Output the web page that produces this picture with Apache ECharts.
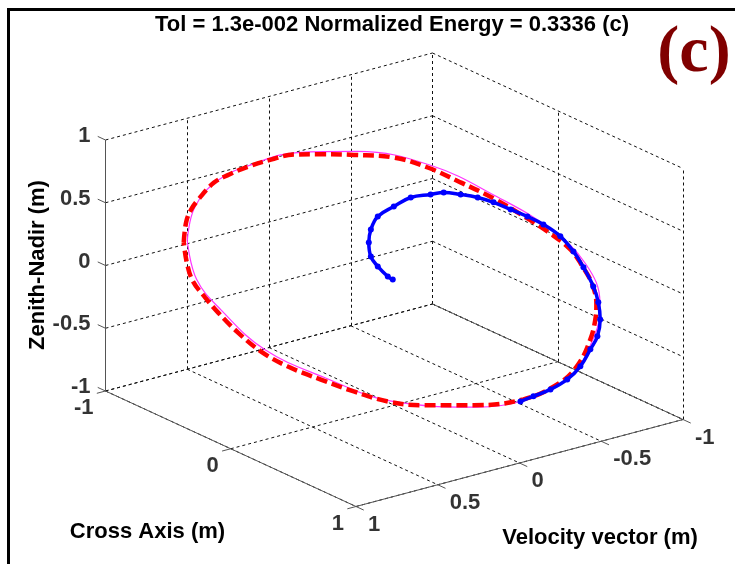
<!DOCTYPE html>
<html>
<head>
<meta charset="utf-8">
<script src="https://cdn.jsdelivr.net/npm/echarts@6/dist/echarts.min.js"></script>
<style>
html, body { margin: 0; padding: 0; background: #fff; }
#chart { width: 752px; height: 564px; }
</style>
</head>
<body>
<div id="chart"></div>
<script>
// axis ticks
var crossTicks = [-1, 0, 1];
var velocityTicks = [1, 0.5, 0, -0.5, -1];
var zenithTicks = [-1, -0.5, 0, 0.5, 1];
var crossTickText = ["-1", "0", "1"];
var velocityTickText = ["1", "0.5", "0", "-0.5", "-1"];
var zenithTickText = ["-1", "-0.5", "0", "0.5", "1"];

// desired orbit (magenta)
var desCross = [-0.603, -0.582, -0.515, -0.416, -0.282, -0.108, 0.107, 0.299, 0.456, 0.558, 0.599, 0.581, 0.494, 0.241, -0.009, -0.204, -0.378, -0.503, -0.576];
var desVelocity = [0.804, 0.775, 0.686, 0.554, 0.376, 0.143, -0.144, -0.400, -0.609, -0.745, -0.799, -0.776, -0.659, -0.322, 0.011, 0.271, 0.503, 0.670, 0.767];
var desZenith = [0.313, 0.576, 0.791, 0.918, 1.014, 1.022, 0.910, 0.660, 0.400, 0.122, -0.181, -0.460, -0.810, -1.015, -0.968, -0.779, -0.556, -0.245, 0.002];

// reference orbit (red dashed)
var refCross = [-0.613, -0.606, -0.592, -0.571, -0.525, -0.481, -0.426, -0.359, -0.292, -0.214, -0.118, -0.001, 0.097, 0.193, 0.289, 0.388, 0.446, 0.513, 0.548, 0.577, 0.589, 0.586, 0.571, 0.536, 0.484, 0.376, 0.231, 0.077, -0.019, -0.118, -0.214, -0.310, -0.388, -0.455, -0.513, -0.551, -0.586, -0.603];
var refVelocity = [0.818, 0.808, 0.789, 0.762, 0.700, 0.641, 0.568, 0.479, 0.390, 0.285, 0.157, 0.002, -0.130, -0.258, -0.386, -0.517, -0.595, -0.684, -0.731, -0.769, -0.785, -0.781, -0.762, -0.715, -0.645, -0.502, -0.308, -0.103, 0.025, 0.157, 0.285, 0.413, 0.517, 0.607, 0.684, 0.734, 0.781, 0.804];
var refZenith = [0.297, 0.464, 0.560, 0.639, 0.775, 0.839, 0.902, 0.958, 0.998, 1.0, 0.995, 0.974, 0.894, 0.775, 0.647, 0.488, 0.384, 0.241, 0.106, -0.038, -0.197, -0.317, -0.476, -0.675, -0.819, -0.954, -1.0, -1.0, -0.970, -0.890, -0.795, -0.691, -0.572, -0.420, -0.261, -0.141, -0.014, 0.122];

// actual trajectory (blue)
var trajCross = [-0.004, -0.019, -0.048, -0.068, -0.074, -0.068, -0.048, -0.001, 0.048, 0.106, 0.144, 0.193, 0.243, 0.289, 0.339, 0.388, 0.435, 0.484, 0.522, 0.551, 0.580, 0.594, 0.600, 0.592, 0.571, 0.542, 0.504, 0.455, 0.405, 0.368];
var trajVelocity = [0.006, 0.025, 0.064, 0.091, 0.099, 0.091, 0.064, 0.002, -0.064, -0.141, -0.192, -0.258, -0.324, -0.386, -0.452, -0.517, -0.579, -0.645, -0.696, -0.735, -0.773, -0.793, -0.800, -0.789, -0.762, -0.723, -0.672, -0.607, -0.541, -0.490];
var trajZenith = [0.002, 0.026, 0.106, 0.185, 0.297, 0.400, 0.504, 0.584, 0.655, 0.679, 0.695, 0.679, 0.655, 0.616, 0.560, 0.504, 0.440, 0.345, 0.225, 0.098, -0.054, -0.181, -0.317, -0.452, -0.556, -0.691, -0.795, -0.875, -0.930, -0.970];

// 3d view of the axes box
var box = { ox: 105.5, oy: 391, cx: 250.5, cy: 115.5, vx: 327, vy: -87, zh: 251 };
function proj(c, v, z) {
    var a = (c + 1) / 2, b = (1 - v) / 2, h = (z + 1) / 2;
    return [box.ox + a * box.cx + b * box.vx, box.oy + a * box.cy + b * box.vy - h * box.zh];
}

function curve(cs, vs, zs, closed) {
    var pts = [];
    for (var i = 0; i < cs.length; i++) pts.push(proj(cs[i], vs[i], zs[i]));
    if (closed) pts.push(pts[0]);
    return pts;
}

function seg(list, p, q) {
    list.push({ coords: [proj(p[0], p[1], p[2]), proj(q[0], q[1], q[2])] });
}

var gridSegs = [];
zenithTicks.forEach(function(z) {
    seg(gridSegs, [-1, 1, z], [-1, -1, z]);
    seg(gridSegs, [-1, -1, z], [1, -1, z]);
});
velocityTicks.forEach(function(v) {
    seg(gridSegs, [-1, v, -1], [-1, v, 1]);
    seg(gridSegs, [-1, v, -1], [1, v, -1]);
});
crossTicks.forEach(function(c) {
    seg(gridSegs, [c, -1, -1], [c, -1, 1]);
    seg(gridSegs, [c, 1, -1], [c, -1, -1]);
});

var axisSegs = [];
seg(axisSegs, [-1, 1, -1], [-1, 1, 1]);
seg(axisSegs, [-1, 1, -1], [1, 1, -1]);
seg(axisSegs, [1, 1, -1], [1, -1, -1]);
seg(axisSegs, [-1, -1, -1], [1, -1, -1]);
zenithTicks.forEach(function(z) { seg(axisSegs, [-1, 1, z], [-1.062, 1, z]); });
crossTicks.forEach(function(c) { seg(axisSegs, [c, 1, -1], [c, 1.053, -1]); });
velocityTicks.forEach(function(v) { seg(axisSegs, [1, v, -1], [1.062, v, -1]); });

var labelFont = { fontFamily: "Liberation Sans", fontWeight: "bold", fontSize: 22, color: "#000" };
function tickLabels(points, texts, align, offset) {
    return points.map(function(p, i) {
        return {
            value: p,
            label: Object.assign({
                show: true, position: "inside", align: align, verticalAlign: "middle",
                offset: offset, formatter: texts[i]
            }, labelFont)
        };
    });
}

var labelData = []
    .concat(tickLabels(zenithTicks.map(function(z) { return proj(-1, 1, z); }), zenithTickText, "right", [-15, -4]))
    .concat(tickLabels(crossTicks.map(function(c) { return proj(c, 1, -1); }), crossTickText, "right", [-12, 17]))
    .concat(tickLabels(velocityTicks.map(function(v) { return proj(1, v, -1); }), velocityTickText, "left", [12, 18]));

var chart = echarts.init(document.getElementById("chart"));

var option = {
    backgroundColor: "#fff",
    animation: false,
    grid: { left: 0, right: 0, top: 0, bottom: 0 },
    xAxis: { type: "value", min: 0, max: 752, show: false },
    yAxis: { type: "value", min: 0, max: 564, inverse: true, show: false },
    graphic: [
        { type: "line", shape: { x1: 8.5, y1: 8, x2: 8.5, y2: 564 }, style: { stroke: "#000", lineWidth: 3 } },
        { type: "line", shape: { x1: 7, y1: 9.5, x2: 735, y2: 9.5 }, style: { stroke: "#000", lineWidth: 3 } },
        {
            type: "text", x: 392, y: 25,
            style: { text: "Tol = 1.3e-002 Normalized Energy = 0.3336 (c)", align: "center", verticalAlign: "middle",
                font: 'bold 22px "Liberation Sans"', fill: "#000" }
        },
        {
            type: "text", x: 694, y: 54,
            style: { text: "(c)", align: "center", verticalAlign: "middle",
                font: 'bold 66px "Liberation Serif"', fill: "#800000" }
        },
        {
            type: "text", x: 147.5, y: 532,
            style: { text: "Cross Axis (m)", align: "center", verticalAlign: "middle",
                font: 'bold 22px "Liberation Sans"', fill: "#000" }
        },
        {
            type: "text", x: 600, y: 538,
            style: { text: "Velocity vector (m)", align: "center", verticalAlign: "middle",
                font: 'bold 22px "Liberation Sans"', fill: "#000" }
        },
        {
            type: "text", x: 37.5, y: 265, rotation: Math.PI / 2,
            style: { text: "Zenith-Nadir (m)", align: "center", verticalAlign: "middle",
                font: 'bold 22px "Liberation Sans"', fill: "#000" }
        }
    ],
    series: [{
        type: "lines",
        coordinateSystem: "cartesian2d",
        silent: true,
        data: gridSegs,
        lineStyle: { color: "#111", width: 1, type: [3, 3], opacity: 1 }
    }, {
        type: "lines",
        coordinateSystem: "cartesian2d",
        silent: true,
        data: axisSegs,
        lineStyle: { color: "#555", width: 1, opacity: 1 }
    }, {
        name: "desired",
        type: "line",
        data: curve(desCross, desVelocity, desZenith, true),
        smooth: 0.4,
        showSymbol: false,
        lineStyle: { color: "#ff33ff", width: 1.2 }
    }, {
        name: "reference",
        type: "line",
        data: curve(refCross, refVelocity, refZenith, true),
        smooth: 0.4,
        showSymbol: false,
        lineStyle: { color: "#ff0000", width: 4.5, type: [11, 5] }
    }, {
        name: "trajectory",
        type: "line",
        data: curve(trajCross, trajVelocity, trajZenith, false),
        smooth: 0.4,
        symbol: "circle",
        symbolSize: 6,
        showAllSymbol: true,
        itemStyle: { color: "#0000ff" },
        lineStyle: { color: "#0000ff", width: 3.5 }
    }, {
        type: "scatter",
        silent: true,
        symbolSize: 0,
        itemStyle: { color: "transparent" },
        data: labelData
    }]
};

chart.setOption(option);
</script>
</body>
</html>
